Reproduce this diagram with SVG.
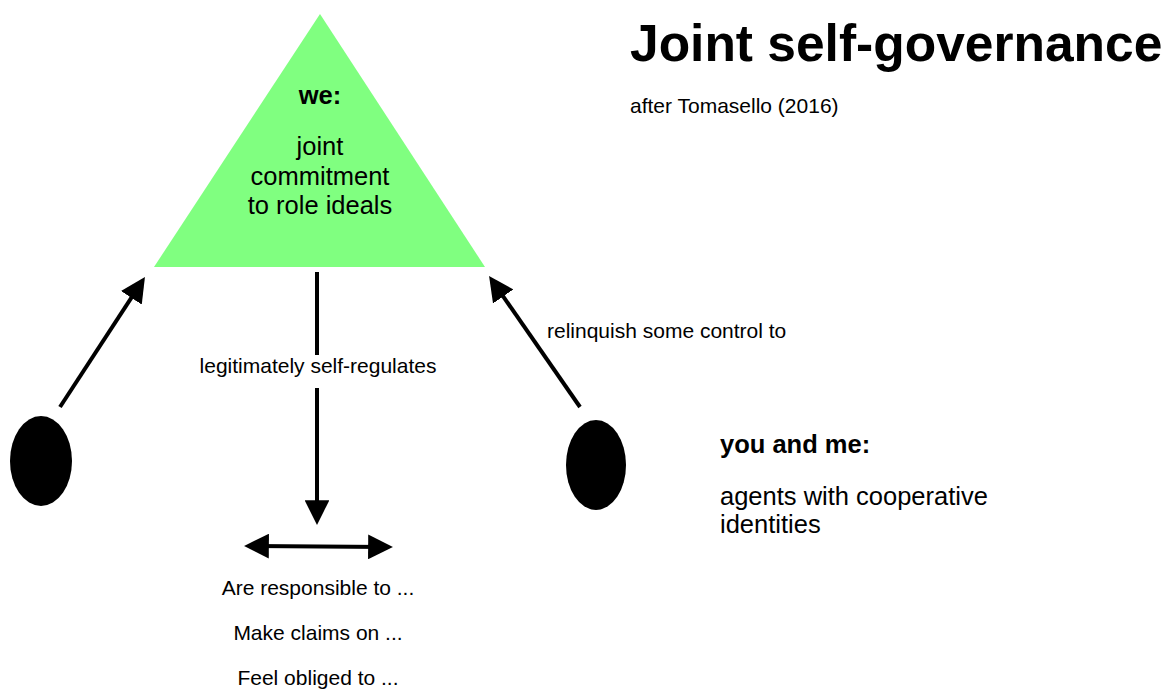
<svg xmlns="http://www.w3.org/2000/svg" width="1172" height="689" viewBox="0 0 1172 689">
<defs>
<style>
text{font-family:"Liberation Sans",Arial,sans-serif;fill:#000}
.sm{font-size:21px}
.md{font-size:25.5px}
.b{font-weight:bold}
.ln{stroke:#000;stroke-width:4;fill:none}
</style>
<marker id="ah" viewBox="0 0 10 10" refX="6.8" refY="5" markerWidth="6.2" markerHeight="6.2" markerUnits="strokeWidth" orient="auto-start-reverse">
<path d="M0,0 L10,5 L0,10 Z" fill="#000"/>
</marker>
</defs>
<rect width="1172" height="689" fill="#fff"/>
<g id="title">
<text x="630" y="61" font-size="51.5" class="b">Joint self-governance</text>
<text x="630" y="113" class="sm">after Tomasello (2016)</text>
</g>
<g id="we">
<polygon points="320,14 485,267 154,267" fill="#80ff80"/>
<text x="320" y="104" text-anchor="middle" class="md b">we:</text>
<text x="320" y="155" text-anchor="middle" class="md">joint</text>
<text x="320" y="185" text-anchor="middle" class="md">commitment</text>
<text x="320" y="214" text-anchor="middle" class="md">to role ideals</text>
</g>
<g id="agent-left">
<ellipse cx="41" cy="461" rx="31" ry="45" fill="#000"/>
</g>
<g id="agent-right">
<ellipse cx="596" cy="465" rx="30" ry="45" fill="#000"/>
</g>
<g id="you-and-me">
<text x="720" y="453" class="md b">you and me:</text>
<text x="720" y="505" class="md">agents with cooperative</text>
<text x="720" y="533" class="md">identities</text>
</g>
<g id="relations">
<text x="318" y="595" text-anchor="middle" class="sm">Are responsible to ...</text>
<text x="318" y="640" text-anchor="middle" class="sm">Make claims on ...</text>
<text x="318" y="685" text-anchor="middle" class="sm">Feel obliged to ...</text>
</g>
<g id="connectors">
<line class="ln" x1="60" y1="407" x2="140.6" y2="283.7" marker-end="url(#ah)"/>
<line class="ln" x1="580" y1="407" x2="493.6" y2="282.6" marker-end="url(#ah)"/>
<line class="ln" x1="317" y1="272" x2="317" y2="355"/>
<line class="ln" x1="317" y1="388" x2="317" y2="517" marker-end="url(#ah)"/>
<line class="ln" x1="252" y1="546" x2="385" y2="547" marker-start="url(#ah)" marker-end="url(#ah)"/>
<text x="318" y="373" text-anchor="middle" class="sm">legitimately self-regulates</text>
<text x="547" y="338" class="sm">relinquish some control to</text>
</g>
</svg>
